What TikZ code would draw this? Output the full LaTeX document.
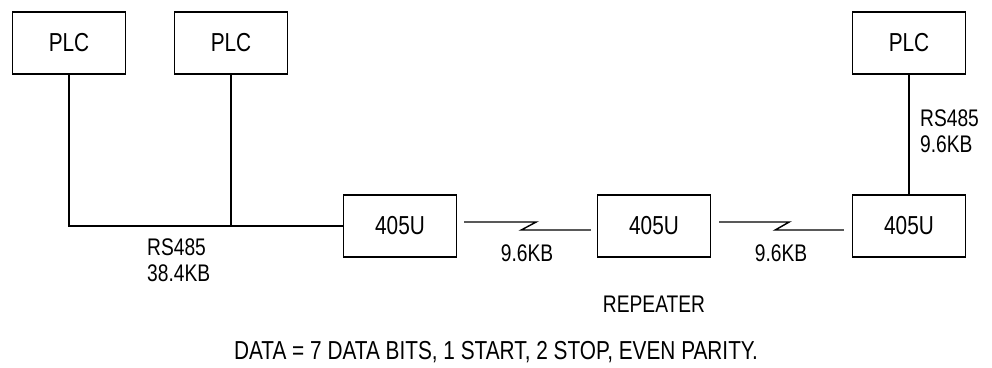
\documentclass[tikz,border=0pt]{standalone}
\usepackage{fontspec}
\setmainfont{Liberation Sans}[FakeStretch=0.8]
\usetikzlibrary{positioning}

\begin{document}
\begin{tikzpicture}[x=1pt, y=-1pt,
	unitbox/.style={rectangle,
					line width=1.4pt,
					minimum width=113pt,
					minimum height=62pt,
					draw=black,
					font=\fontsize{26}{22}\selectfont},
	wire/.style={line width=1.4pt, black},
	lbl/.style={font=\fontsize{24}{26}\selectfont,
					inner sep=0pt,
					align=left}
	]

% fixed page size, same as the drawing
\useasboundingbox (0,0) rectangle (992,367);

% PLC nodes
\node[unitbox]  (plc1) at (69,43) {PLC};
\node[unitbox]  (plc2) [right of = plc1, node distance=162pt] {PLC};
\node[unitbox]  (plc3) at (909,43) {PLC};

% radio nodes
\node[unitbox]  (rad1) at (400,226) {405U};
\node[unitbox]  (rad2) [right of = rad1, node distance=254pt] {405U};
\node[unitbox]  (rad3) [right of = rad2, node distance=255pt] {405U};

% RS485 wiring
\draw[wire] (plc1.south) |- (rad1.west);
\draw[wire] (plc2.south) -- (plc2 |- rad1.west);
\draw[wire] (plc3.south) -- (rad3.north);

% radio links
\draw[wire] ([xshift=7pt, yshift=4pt]rad1.east) -- ++(72,0) -- ++(-15,8) -- ([xshift=-6pt, yshift=-4pt]rad2.west);
\draw[wire] ([xshift=8pt, yshift=4pt]rad2.east) -- ++(70,0) -- ++(-14,8) -- ([xshift=-8pt, yshift=-4pt]rad3.west);

% labels
\node[lbl, anchor=west]  (bus)  at (147,260) {RS485\\38.4KB};
\node[lbl, anchor=west]  (drop) at (920,131) {RS485\\9.6KB};
\node[lbl]  (rate1) at (527,253) {9.6KB};
\node[lbl]  (rate2) at (781,253) {9.6KB};
\node[lbl]  (rpt) [below of = rad2, node distance=78pt] {REPEATER};
\node[lbl, font=\fontsize{26}{22}\selectfont]  (note) at (496,352) {DATA = 7 DATA BITS, 1 START, 2 STOP, EVEN PARITY.};

\end{tikzpicture}
\end{document}
